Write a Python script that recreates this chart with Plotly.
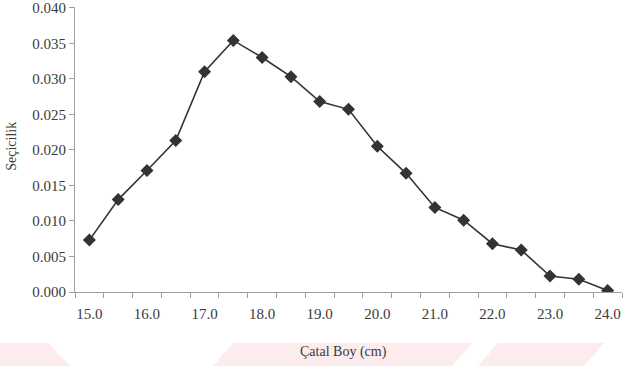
import plotly.graph_objects as go

# Fork length classes (cm) and selectivity values
catal_boy = [15.0, 15.5, 16.0, 16.5, 17.0, 17.5, 18.0, 18.5, 19.0, 19.5,
             20.0, 20.5, 21.0, 21.5, 22.0, 22.5, 23.0, 23.5, 24.0]
secicilik = [0.0073, 0.0130, 0.0171, 0.0213, 0.0310, 0.0354, 0.0330, 0.0303,
             0.0268, 0.0257, 0.0205, 0.0167, 0.0119, 0.0101, 0.0068, 0.0059,
             0.00225, 0.0018, 0.0002]
x_tick_labels = [15.0, 16.0, 17.0, 18.0, 19.0, 20.0, 21.0, 22.0, 23.0, 24.0]
y_tick_labels = [0.000, 0.005, 0.010, 0.015, 0.020, 0.025, 0.030, 0.035, 0.040]

SERIF = "Liberation Serif"
TEXT = "#3a3a3a"
AXIS = "#a0a0a0"
INK = "#333333"

W, H = 623, 366
ML, MR, MT, MB = 75, 1, 7, 74
PW, PH = W - ML - MR, H - MT - MB

fig = go.Figure()
fig.add_trace(go.Scatter(
    x=catal_boy, y=secicilik, mode="lines+markers",
    line=dict(color=INK, width=1.6),
    marker=dict(symbol="diamond", size=10, color=INK),
    showlegend=False, hoverinfo="x+y",
))


def to_paper(px, py):
    """Convert page pixel coordinates to paper fractions."""
    return (px - ML) / PW, (H - MB - py) / PH


# faint diagonal band decoration along the bottom edge
band = "rgba(244,170,175,0.22)"
for poly in [
    [(0, 343), (48, 343), (70, 366), (0, 366)],
    [(233, 343), (472, 343), (452, 366), (213, 366)],
    [(498, 343), (604, 343), (584, 366), (478, 366)],
]:
    pts = [to_paper(px, py) for px, py in poly]
    path = "M " + " L ".join(f"{x:.4f},{y:.4f}" for x, y in pts) + " Z"
    fig.add_shape(type="path", path=path, xref="paper", yref="paper",
                  line=dict(width=0), fillcolor=band, layer="below")

fig.update_layout(
    width=W, height=H,
    margin=dict(l=ML, r=MR, t=MT, b=MB),
    paper_bgcolor="white", plot_bgcolor="white",
    font=dict(family=SERIF, size=15, color=TEXT),
    xaxis=dict(
        range=[14.75, 24.25], tickvals=x_tick_labels, tickformat=".1f",
        ticks="", showgrid=False, zeroline=False,
        showline=True, linecolor=AXIS, linewidth=1,
        ticklabelstandoff=8, ticklabeloverflow="allow",
        minor=dict(tick0=14.75, dtick=0.5, ticks="outside", ticklen=5,
                   tickcolor=AXIS, showgrid=False),
        tickfont=dict(family=SERIF, size=15, color=TEXT),
    ),
    yaxis=dict(
        range=[0, 0.0401], tickvals=y_tick_labels, tickformat=".3f",
        ticks="outside", ticklen=5, tickcolor=AXIS,
        showgrid=False, zeroline=False,
        showline=True, linecolor=AXIS, linewidth=1,
        ticklabeloverflow="allow",
        tickfont=dict(family=SERIF, size=15, color=TEXT),
    ),
    annotations=[
        dict(text="Çatal Boy (cm)", xref="paper", yref="paper",
             x=0.49, y=-0.21, xanchor="center", yanchor="middle",
             showarrow=False, font=dict(family=SERIF, size=14, color=TEXT)),
        dict(text="Seçicilik", xref="paper", yref="paper",
             x=-0.115, y=0.51, xanchor="center", yanchor="middle",
             textangle=-90, showarrow=False,
             font=dict(family=SERIF, size=14, color=TEXT)),
    ],
)

fig.write_html("out.html")
